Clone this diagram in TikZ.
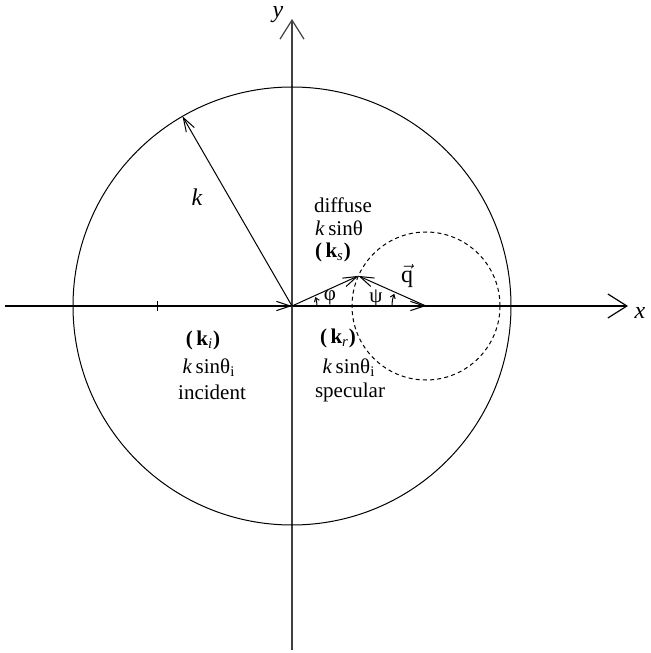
\documentclass[tikz,border=0pt]{standalone}
\usepackage{fontspec}
\setmainfont{Liberation Serif}
\usetikzlibrary{arrows.meta}

\begin{document}
\begin{tikzpicture}[x=0.5pt, y=0.5pt,
  axis/.style={-{Straight Barb[length=9.5pt, width=12pt]}, line width=0.6pt},
  vec/.style={-{Straight Barb[length=7pt, width=4.6pt]}, line width=0.5pt},
  ang/.style={-{Straight Barb[length=1.8pt, width=2.6pt]}, line width=0.5pt},
  lbl/.style={font=\fontsize{10.5}{12}\selectfont, inner sep=0pt}
]
\useasboundingbox (-292,-347) rectangle (358,306);

% Axes and k-sphere
\coordinate (O) at (0,0);
\coordinate (xl) at (-287,0);
\coordinate (xr) at (336,0);
\coordinate (yb) at (0,-344);
\coordinate (yt) at (0,287);
\draw[axis] (xl) -- (xr);
\draw[axis, black!75] (yb) -- (yt);
\node[lbl, font=\fontsize{12}{14}\selectfont\itshape] (lx) at (348,-7) {x};
\node[lbl, font=\fontsize{12}{14}\selectfont\itshape] (ly) at (-14,291) {y};
\draw[line width=0.5pt] (O) circle[radius=219];

% Wave vectors
\coordinate (ki) at (-134,0);
\coordinate (kr) at (134,0);
\coordinate (ks) at (66.4,30.1);
\coordinate (kk) at (120:219);
\draw[line width=0.5pt] ([yshift=-2.5pt]ki) -- ([yshift=2.5pt]ki);
\draw[vec] (ki) -- (O);
\draw[vec] (O) -- (kr);
\draw[vec] (O) -- (ks);
\draw[vec] (kr) -- (ks);
\draw[vec] (O) -- (kk);
\draw[line width=0.5pt, dash pattern=on 2pt off 1.6pt] (kr) circle[radius=74];

% Angles
\draw[ang] (25,0) arc[start angle=0, end angle=21, radius=25];
\draw[ang] ([xshift=-17pt]kr) arc[start angle=180, end angle=159, radius=34];
\node[lbl] (lphi) at (38,8) {φ};
\node[lbl] (lpsi) at (84,8) {ψ};
\node[lbl, font=\fontsize{12}{14}\selectfont] (lq) at (115,30) {$\vec{\textrm{q}}$};

% Labels
\node[lbl, font=\fontsize{12}{14}\selectfont\itshape] (lk) at (-95,109) {k};
\node[lbl] (ldiff) at (51,101) {diffuse};
\node[lbl] (lks) at (47,78) {\textit{k}\,sinθ};
\node[lbl] (lkks) at (41,54) {\textbf{(\,k}\textsubscript{\textit{s}}\textbf{)}};
\node[lbl] (lkkr) at (46,-32) {\textbf{(\,k}\textsubscript{\textit{r}}\textbf{)}};
\node[lbl] (lkr) at (57,-62) {\textit{k}\,sinθ\textsubscript{i}};
\node[lbl] (lspec) at (58,-86) {specular};
\node[lbl] (lkki) at (-89,-34) {\textbf{(\,k}\textsubscript{\textit{i}}\textbf{)}};
\node[lbl] (lki) at (-83,-62) {\textit{k}\,sinθ\textsubscript{i}};
\node[lbl] (linc) at (-80,-86) {incident};
\end{tikzpicture}
\end{document}
